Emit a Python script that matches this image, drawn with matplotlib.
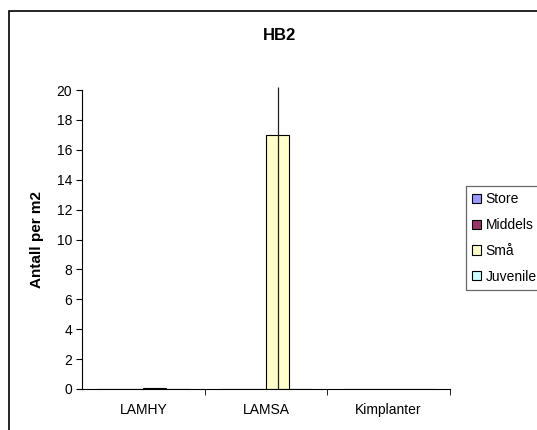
import matplotlib
matplotlib.use("Agg")
import matplotlib.pyplot as plt
from matplotlib.patches import Rectangle
import numpy as np

plt.rcParams['font.family'] = ['Liberation Sans', 'DejaVu Sans']

categories = ["LAMHY", "LAMSA", "Kimplanter"]
series_names = ["Store", "Middels", "Små", "Juvenile"]
store = [0, 0, 0]
middels = [0, 0, 0]
smaa = [0.04, 17, 0]
juvenile = [0, 0, 0]
smaa_err_low = [0, 17, 0]
smaa_err_high = [0, 3.2, 0]
colors = ["#9999FF", "#993366", "#FFFFCC", "#CCFFFF"]

fig = plt.figure(figsize=(5.37, 4.30), dpi=100)
ax = fig.add_axes([82/537, 1-389/430, (450-82)/537, (389-90)/430])

x = np.arange(len(categories))
w = 0.1875
values = [store, middels, smaa, juvenile]
for i, (name, vals, c) in enumerate(zip(series_names, values, colors)):
    off = (i - 1.5) * w
    ax.bar(x + off, vals, width=w, color=c, edgecolor="black", linewidth=0.8, label=name)
    if name == "Små":
        ax.errorbar(x + off, vals, yerr=[smaa_err_low, smaa_err_high], fmt="none",
                    ecolor="#222222", elinewidth=0.9, capsize=0, clip_on=False)

ax.set_xlim(-0.5, 2.5)
ax.set_ylim(0, 20)
ax.set_yticks(range(0, 21, 2))
ax.set_xticks(x)
ax.set_xticklabels(categories, fontsize=10)
ax.set_xticks([0.5, 1.5, 2.5], minor=True)
ax.tick_params(axis="x", which="major", length=0, pad=10)
ax.tick_params(axis="x", which="minor", length=4, direction="out")
ax.tick_params(axis="y", length=4, direction="out", labelsize=10, pad=3)
for s in ["top", "right"]:
    ax.spines[s].set_visible(False)
ax.spines["left"].set_linewidth(0.8)
ax.spines["bottom"].set_linewidth(0.8)
ax.set_ylabel("Antall per m2", fontsize=11, fontweight="bold", labelpad=9)
fig.text(279/537, 1-36/430, "HB2", fontsize=12, fontweight="bold", ha="center", va="center")

fig.patches.append(Rectangle((9/537, -0.1), 1.2, 1 - 11/430 + 0.1, transform=fig.transFigure,
                             fill=False, edgecolor="black", linewidth=1.2))

leg = ax.legend(loc="upper left", bbox_to_anchor=(466/537, 1-186/430), bbox_transform=fig.transFigure,
                fontsize=10, frameon=True, fancybox=False, shadow=False, handlelength=0.65,
                handleheight=0.65, handletextpad=0.3, labelspacing=0.85, borderpad=0.45,
                borderaxespad=0)
leg.get_frame().set_edgecolor("#444444")
leg.get_frame().set_linewidth(0.9)

fig.savefig("out.png", dpi=100)
